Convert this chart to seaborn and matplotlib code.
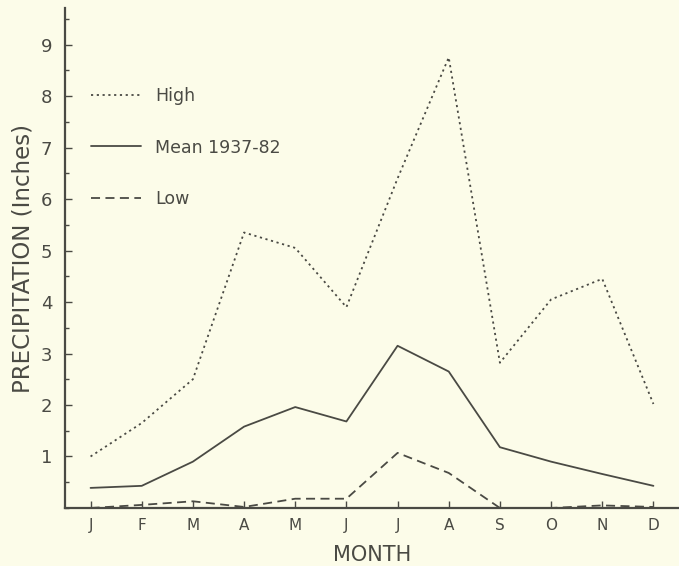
import matplotlib
matplotlib.use("Agg")
import matplotlib.pyplot as plt
import seaborn as sns
import pandas as pd
import numpy as np
from matplotlib.ticker import MultipleLocator

months = ["J", "F", "M", "A", "M", "J", "J", "A", "S", "O", "N", "D"]
high = [1.0, 1.65, 2.5, 5.35, 5.05, 3.9, 6.4, 8.75, 2.82, 4.05, 4.45, 2.02]
mean = [0.39, 0.43, 0.9, 1.58, 1.96, 1.68, 3.15, 2.65, 1.18, 0.9, 0.66, 0.43]
low = [0.0, 0.06, 0.13, 0.02, 0.18, 0.18, 1.07, 0.68, 0.0, 0.0, 0.05, 0.02]
series_names = ["High", "Mean 1937-82", "Low"]

idx = np.arange(len(months))
df = pd.concat([
    pd.DataFrame({"m": idx, "v": high, "s": series_names[0]}),
    pd.DataFrame({"m": idx, "v": mean, "s": series_names[1]}),
    pd.DataFrame({"m": idx, "v": low, "s": series_names[2]}),
])

sns.set_style("ticks")
bg = "#fcfce9"
ink = "#4a4a44"
plt.rcParams["font.family"] = ["DejaVu Sans"]

fig = plt.figure(figsize=(6.79, 5.66), dpi=100, facecolor=bg)
ax = fig.add_axes([0.0957, 0.1025, 0.9043, 0.8825])
ax.set_facecolor(bg)

sns.lineplot(data=df, x="m", y="v", style="s", ax=ax, color=ink,
             linewidth=1.3, sort=False,
             dashes={"High": (1.2, 2.0), "Mean 1937-82": "", "Low": (5, 3)},
             legend=True)

handles, labels = ax.get_legend_handles_labels()
ax.legend(handles, labels, frameon=False, loc="center left",
          bbox_to_anchor=(0.0, 7.0), bbox_transform=ax.transData,
          fontsize=12.5, labelspacing=1.95, handlelength=2.9,
          handletextpad=0.8, borderpad=0, borderaxespad=0, labelcolor=ink)

ax.set_xlim(-0.5, 11.5)
ax.set_ylim(0, 9.7)
ax.set_xticks(idx)
ax.set_xticklabels(months)
ax.set_yticks(range(1, 10))
ax.yaxis.set_minor_locator(MultipleLocator(0.5))
ax.tick_params(axis="both", which="both", direction="in", color=ink,
               labelcolor=ink)
ax.tick_params(axis="y", which="major", length=5, width=1, labelsize=13, pad=9)
ax.tick_params(axis="y", which="minor", length=3, width=1)
ax.tick_params(axis="x", which="major", length=5, width=1, labelsize=11, pad=7)

for side in ["top", "right"]:
    ax.spines[side].set_visible(False)
for side in ["left", "bottom"]:
    ax.spines[side].set_color(ink)
    ax.spines[side].set_linewidth(1.6)

ax.set_xlabel("MONTH", fontsize=15, color=ink, labelpad=9)
ax.set_ylabel("PRECIPITATION (Inches)", fontsize=16.5, color=ink, labelpad=5)

fig.savefig("out.png", dpi=100, facecolor=bg)
